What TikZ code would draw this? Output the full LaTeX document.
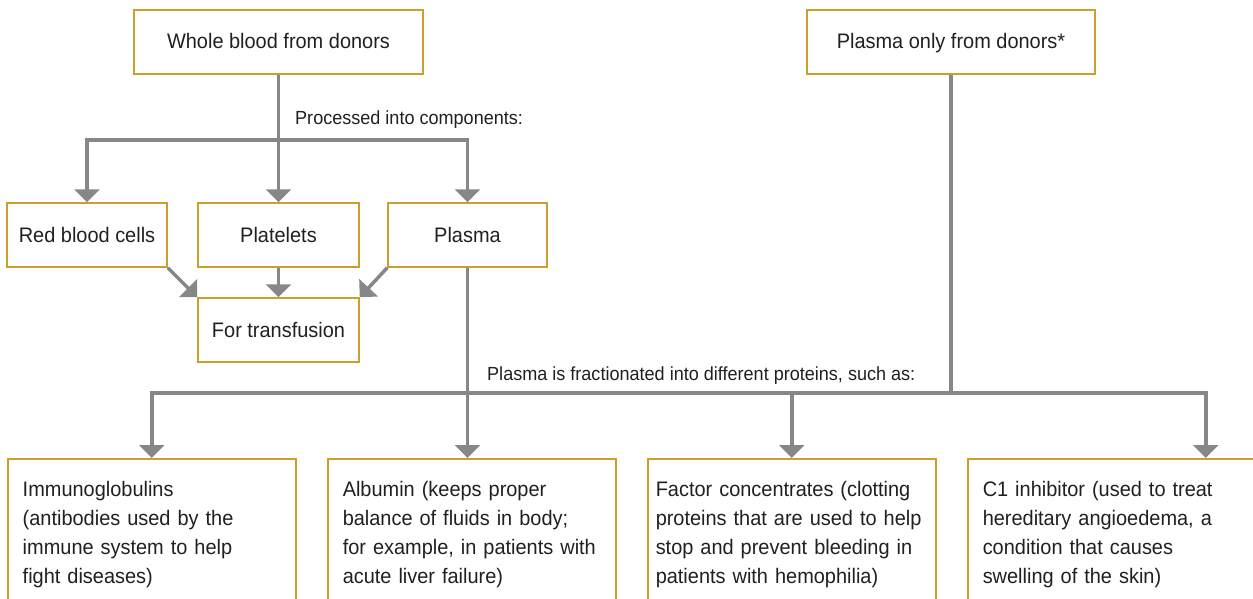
\documentclass[tikz,border=0pt]{standalone}
\usepackage{fontspec}
\setmainfont{Liberation Sans}[FakeStretch=0.95]
\usetikzlibrary{arrows.meta,positioning,calc}
\definecolor{boxgold}{RGB}{200,160,45}
\definecolor{lnkgray}{RGB}{135,135,138}
\definecolor{ink}{RGB}{35,31,32}

\begin{document}
\begin{tikzpicture}[x=1pt,y=-1pt,
  blk/.style={draw=boxgold,line width=1.5pt,minimum height=64pt,inner sep=0pt,text height=17pt,text depth=3pt,
    text=ink,font=\fontsize{21}{25}\selectfont},
  tall/.style={draw=boxgold,line width=1.5pt,anchor=north west,text width=258pt,inner xsep=15pt,inner ysep=23pt,
    text height=15pt,text depth=200pt,align=left,text=ink,font=\fontsize{21}{29}\selectfont},
  lbl/.style={anchor=base west,inner sep=0pt,text=ink,font=\fontsize{19}{23}\selectfont},
  lnk/.style={draw=lnkgray,line width=3.5pt},
  arr/.style={lnk,-{Triangle[width=25pt,length=13pt]}}]
\useasboundingbox (0,0) rectangle (1253,599);
\clip (0,0) rectangle (1253,599);
% sources
\node[blk,minimum width=289pt] (whole) at (278.5,42) {Whole blood from donors};
\node[blk,minimum width=288pt] (plonly) at (951,42) {Plasma only from donors*};
% components
\node[blk,minimum width=160pt] (rbc) at (87,235) {Red blood cells};
\node[blk,minimum width=161pt] (plt) at (278.5,235) {Platelets};
\node[blk,minimum width=159pt] (pls) at (467.5,235) {Plasma};
\node[blk,minimum width=161pt] (trans) at (278.5,330) {For transfusion};
% proteins
\node[tall] (immu) at (7,458) {Immunoglobulins\\(antibodies used by the\\immune system to help\\fight diseases)};
\node[tall] (alb) at (327,458) {Albumin (keeps proper\\balance of fluids in body;\\for example, in patients with\\acute liver failure)};
\node[tall,text width=272pt,inner xsep=8pt] (fac) at (647,458) {Factor concentrates (clotting\\proteins that are used to help\\stop and prevent bleeding in\\patients with hemophilia)};
\node[tall] (cone) at (967,458) {C1 inhibitor (used to treat\\hereditary angioedema, a\\condition that causes\\swelling of the skin)};
% labels
\node[lbl] (proc) at (295,125) {Processed into components:};
\node[lbl] (frac) at (487,380) {Plasma is fractionated into different proteins, such as:};
% upper connectors
\coordinate (split) at (278.5,140);
\draw[lnk] (whole) -- (split);
\draw[arr] (split) -| (rbc);
\draw[arr] (split) -- (plt);
\draw[arr] (split) -| (pls);
\draw[arr] (rbc.south east) -- (trans.north west);
\draw[arr] (plt) -- (trans);
\draw[arr] (pls.south west) -- (trans.north east);
% lower connectors
\coordinate (fork) at (467.5,393);
\coordinate (fork2) at (951,393);
\draw[lnk] (pls) -- (fork);
\draw[lnk] (plonly) -- (fork2);
\draw[lnk] (fork) -- (fork2);
\draw[arr] (fork) -| (immu.north);
\draw[arr] (fork) -- (fork |- alb.north);
\draw[arr] (fork2) -| (fac.north);
\draw[arr] (fork2) -| ([xshift=94pt]cone.north);
\end{tikzpicture}
\end{document}
